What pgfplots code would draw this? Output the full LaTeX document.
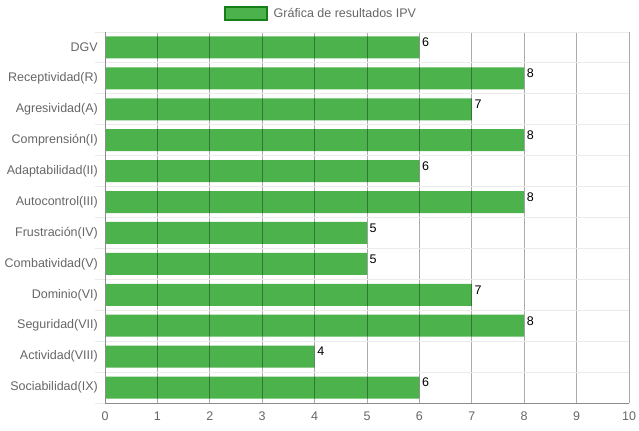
\documentclass[border=0pt]{standalone}
\usepackage{pgfplots}
\pgfplotsset{compat=1.18}
\usepackage{fontspec}
\setmainfont{Liberation Sans}
\definecolor{barfill}{RGB}{76,178,76}
\definecolor{barline}{RGB}{22,128,22}
\definecolor{labgray}{RGB}{102,102,102}

\begin{document}
\begin{tikzpicture}[font=\fontsize{12.5bp}{14bp}\selectfont]
\path[use as bounding box] (0,0) rectangle (639bp,431bp);
\begin{axis}[
  at={(105bp,28bp)}, anchor=south west,
  scale only axis, width=524bp, height=371bp,
  xbar, bar width=22bp,
  xmin=0, xmax=10, ymin=-0.5, ymax=11.5, y dir=reverse,
  xtick={0,...,10}, ytick={0,...,11},
  yticklabels={DGV,Receptividad(R),Agresividad(A),Comprensión(I),Adaptabilidad(II),Autocontrol(III),Frustración(IV),Combatividad(V),Dominio(VI),Seguridad(VII),Actividad(VIII),Sociabilidad(IX)},
  minor ytick={-0.5,0.5,...,11.5},
  axis x line*=bottom, axis y line*=left,
  axis line style={-, draw=black!45},
  xmajorgrids, yminorgrids,
  major grid style={draw=black, opacity=0.33, line width=0.8bp},
  minor grid style={draw=black!8, line width=1bp},
  major tick length=0pt,
  minor tick length=10bp, tick align=outside,
  minor tick style={draw=black!8, line width=1bp},
  axis on top,
  /pgf/number format/assume math mode=true,
  tick label style={text=labgray, font=\fontsize{12.5bp}{14bp}\selectfont},
  yticklabel style={inner sep=0pt, xshift=-7bp},
  xticklabel style={inner sep=0pt, yshift=-9bp},
  nodes near coords,
  every node near coord/.append style={anchor=west, yshift=5bp, inner sep=0pt, xshift=2.5bp, text=black, font=\fontsize{12.5bp}{14bp}\selectfont},
  legend style={draw=none, fill=none, at={(0.412,1.05)}, anchor=center,
    text=labgray, font=\fontsize{12.5bp}{14bp}\selectfont},
  legend image code/.code={%
    \draw[draw=barline, line width=2bp, fill=barfill] (0bp,-6.5bp) rectangle (42bp,6.5bp);
    \path (47bp,0bp);},
]
\addplot[fill=barfill, draw=none] coordinates {
  (6,0) (8,1) (7,2) (8,3) (6,4) (8,5) (5,6) (5,7) (7,8) (8,9) (4,10) (6,11)};
\addlegendentry{Gráfica de resultados IPV}
\end{axis}
\end{tikzpicture}
\end{document}
